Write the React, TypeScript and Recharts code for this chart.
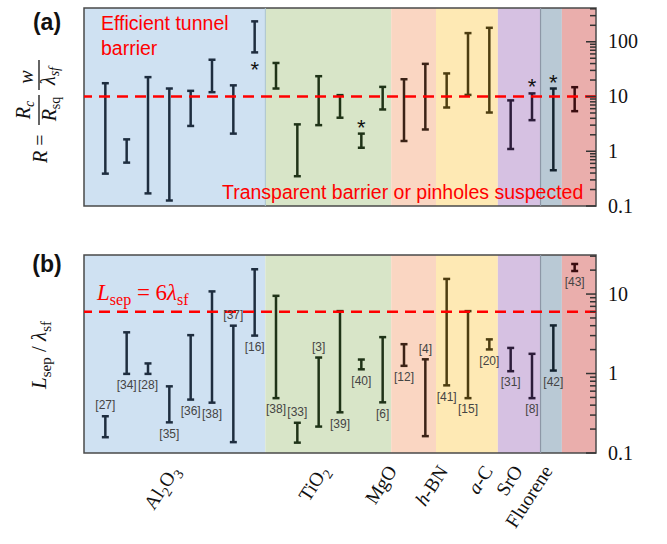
import React from "react";
import {
  ComposedChart,
  XAxis,
  YAxis,
  Scatter,
  ErrorBar,
  ReferenceArea,
  ReferenceLine,
} from "recharts";

// materials (background bands), bar counts per material, band edges in bar-index units
const groups = ["Al2O3", "TiO2", "MgO", "h-BN", "a-C", "SrO", "Fluorene"];
const groupCounts = [8, 6, 2, 3, 2, 1, 1];
const groupEdges = [-1, 7.5, 13.4, 15.5, 18.4, 20.4, 21.4, 23];
const groupFill = ["#cfe1f2", "#d8e5c8", "#fad6c2", "#fee9b4", "#d6c1e2", "#b9c9d5", "#eaaeac"];
const groupStroke = ["#1e2d3f", "#1f3317", "#3b2316", "#4d3d10", "#2c1c3a", "#14232f", "#3a0d10"];
const groupLabelAt = [3.5, 10.5, 13.7, 16.1, 18.2, 19.6, 21.0];

// panel (a): R range per study
const rLow = [0.39, 0.62, 0.17, 0.126, 2.9, 12, 2.1, 64, 14, 0.35, 3.0, 4.1, 1.16, 5.8, 1.54, 2.5, 6.3, 10.7, 5.1, 1.1, 3.7, 0.45, 5.4];
const rHigh = [17.5, 1.65, 22.6, 14, 12.7, 47, 16, 236, 41, 3.1, 23.5, 10.6, 2.1, 15, 20.7, 39.5, 26.4, 144, 180, 8.5, 11.4, 14, 14.8];
const starAt = [7, 12, 20, 21];
const starSide = ["below", "above", "above", "above"];

// panel (b): Lsep / lambda_sf range per study
const lLow = [0.158, 0.99, 0.99, 0.243, 0.47, 0.43, 0.137, 3.0, 0.49, 0.135, 0.215, 0.325, 1.13, 0.434, 1.25, 0.163, 0.71, 0.49, 2.01, 1.07, 0.49, 1.09, 19.5];
const lHigh = [0.29, 3.3, 1.34, 0.69, 3.04, 10.8, 4.0, 20.5, 9.5, 0.24, 1.59, 6.1, 1.5, 2.87, 2.34, 1.51, 15.5, 6.1, 2.69, 2.1, 1.77, 4.03, 23.9];
const refs = ["[27]", "[34]", "[28]", "[35]", "[36]", "[38]", "[37]", "[16]", "[38]", "[33]", "[3]", "[39]", "[40]", "[6]", "[12]", "[4]", "[41]", "[15]", "[20]", "[31]", "[8]", "[42]", "[43]"];
const refSide = ["above", "below", "below", "below", "below", "below", "above", "below", "below", "above", "above", "below", "below", "below", "below", "above", "below", "below", "below", "below", "below", "below", "below"];

const rTicks = [0.1, 0.2, 0.3, 0.4, 0.5, 0.6, 0.7, 0.8, 0.9, 1, 2, 3, 4, 5, 6, 7, 8, 9, 10, 20, 30, 40, 50, 60, 70, 80, 90, 100, 200, 300, 400];
const lTicks = [0.1, 0.2, 0.3, 0.4, 0.5, 0.6, 0.7, 0.8, 0.9, 1, 2, 3, 4, 5, 6, 7, 8, 9, 10, 20, 30];
const majorTicks = [0.1, 1, 10, 100];

const SERIF = "'Liberation Serif', serif";
const SANS = "'Liberation Sans', Arial, sans-serif";

const groupOf: number[] = [];
groupCounts.forEach((n, g) => {
  for (let k = 0; k < n; k++) groupOf.push(g);
});

const rangeData = (lo: number[], hi: number[], g: number) =>
  lo
    .map((v, i) => ({ x: i, y: v, err: [0, hi[i] - v], g: groupOf[i] }))
    .filter((d) => d.g === g);

const starData = starAt.map((i, k) => ({
  x: i,
  y: starSide[k] === "above" ? rHigh[i] : rLow[i],
  side: starSide[k],
}));

const refData = refs.map((r, i) => ({
  x: i,
  y: refSide[i] === "above" ? lHigh[i] : lLow[i],
  side: refSide[i],
  text: r,
}));

// right-hand log axis tick: inward mark, label on the decades
const AxisTick = (props: any) => {
  const { x, y, payload } = props;
  const v = payload.value;
  const major = majorTicks.includes(v);
  return (
    <g>
      <path d={`M${x - (major ? 10 : 6)},${y}H${x}`} stroke="#333" strokeWidth={1.5} fill="none" />
      {major && (
        <text x={x + 12} y={y} dy="0.33em" fontFamily={SERIF} fontSize={20} fill="#111" stroke="none">
          {v < 1 ? "0.1" : String(v)}
        </text>
      )}
    </g>
  );
};

const groupName = (name: string) => {
  if (name === "Al2O3")
    return (
      <>
        Al<tspan dy={5} fontSize={14}>2</tspan>
        <tspan dy={-5}>O</tspan>
        <tspan dy={5} fontSize={14}>3</tspan>
      </>
    );
  if (name === "TiO2")
    return (
      <>
        TiO<tspan dy={5} fontSize={14}>2</tspan>
      </>
    );
  if (name === "h-BN")
    return (
      <>
        <tspan fontStyle="italic">h</tspan>-BN
      </>
    );
  if (name === "a-C")
    return (
      <>
        <tspan fontStyle="italic">a</tspan>-C
      </>
    );
  return name;
};

const GroupTick = (props: any) => {
  const { x, y, payload, index } = props;
  const gi = typeof index === "number" ? index : groupLabelAt.indexOf(payload.value);
  return (
    <text
      transform={`translate(${x},${y + 18}) rotate(-57)`}
      textAnchor="end"
      fontFamily={SERIF}
      fontSize={19.5}
      fill="#111"
    >
      {groupName(groups[gi])}
    </text>
  );
};

const bands = () =>
  groups.map((g, k) => (
    <ReferenceArea
      key={g}
      x1={groupEdges[k]}
      x2={groupEdges[k + 1]}
      fill={groupFill[k]}
      fillOpacity={1}
      stroke="none"
      ifOverflow="visible"
    />
  ));

const ranges = (lo: number[], hi: number[]) =>
  groups.map((g, k) => (
    <Scatter key={"s" + g} data={rangeData(lo, hi, k)} shape={() => <g />} isAnimationActive={false}>
      <ErrorBar
        dataKey="err"
        direction="y"
        width={3.5}
        stroke={groupStroke[k]}
        strokeWidth={2.5}
        isAnimationActive={false}
      />
    </Scatter>
  ));

const Star = (props: any) => {
  const { cx, cy, payload } = props;
  const yy = payload.side === "above" ? cy + 1 : cy + 25;
  return (
    <text x={cx} y={yy} textAnchor="middle" fontFamily={SANS} fontSize={22} fill="#111">
      *
    </text>
  );
};

const RefLabel = (props: any) => {
  const { cx, cy, payload } = props;
  const yy = payload.side === "above" ? cy - 11 : cy + 11;
  return (
    <text x={cx} y={yy} dy="0.35em" textAnchor="middle" fontFamily={SANS} fontSize={12} fill="#444">
      {payload.text}
    </text>
  );
};

// transparent twin chart on top of each panel: carries the right log axis (marks + labels)
const AxisLayer = ({ height, margin, domain, ticks }: any) => (
  <ComposedChart width={667} height={height} margin={margin}>
    <XAxis dataKey="x" type="number" domain={[-1, 23]} hide allowDataOverflow />
    <YAxis
      dataKey="y"
      orientation="right"
      scale="log"
      type="number"
      domain={domain}
      allowDataOverflow
      ticks={ticks}
      interval={0}
      width={60}
      axisLine={false}
      tickLine={false}
      tickSize={0}
      tickMargin={0}
      tick={<AxisTick />}
    />
    <Scatter data={[{ x: 0, y: 1 }]} shape={() => <g />} isAnimationActive={false} />
  </ComposedChart>
);

export default function App() {
  const marginA = { top: 8, right: 11, bottom: 24, left: 84 };
  const marginB = { top: 10, right: 11, bottom: 6, left: 84 };
  return (
    <div style={{ position: "absolute", left: 0, top: 0, width: 667, height: 544, background: "#fff" }}>
      <div style={{ position: "absolute", left: 0, top: 0 }}>
        <ComposedChart width={667} height={230} margin={marginA}>
          <XAxis dataKey="x" type="number" domain={[-1, 23]} hide allowDataOverflow />
          <YAxis
            dataKey="y"
            orientation="right"
            scale="log"
            type="number"
            domain={[0.1, 414]}
            allowDataOverflow
            ticks={majorTicks}
            width={60}
            axisLine={false}
            tickLine={false}
            tick={false}
          />
          {bands()}
          <ReferenceLine x={7.5} stroke="#a9c2cf" strokeWidth={1} />
          <ReferenceLine x={20.4} stroke="#8d97a6" strokeWidth={1.2} />
          {ranges(rLow, rHigh)}
          <Scatter data={starData} shape={<Star />} isAnimationActive={false} />
          <ReferenceLine y={10} stroke="#ff0000" strokeWidth={2.5} strokeDasharray="11 7" />
          <ReferenceArea x1={-1} x2={23} fill="none" stroke="#4a4a4a" strokeWidth={1.5} ifOverflow="visible" />
        </ComposedChart>
      </div>
      <div style={{ position: "absolute", left: 0, top: 0, pointerEvents: "none" }}>
        <AxisLayer height={230} margin={marginA} domain={[0.1, 414]} ticks={rTicks} />
      </div>
      <div style={{ position: "absolute", left: 0, top: 245 }}>
        <ComposedChart width={667} height={299} margin={marginB}>
          <XAxis
            dataKey="x"
            type="number"
            domain={[-1, 23]}
            allowDataOverflow
            ticks={groupLabelAt}
            interval={0}
            height={85}
            axisLine={false}
            tickLine={false}
            tickSize={0}
            tickMargin={0}
            tick={<GroupTick />}
          />
          <YAxis
            dataKey="y"
            orientation="right"
            scale="log"
            type="number"
            domain={[0.1, 31]}
            allowDataOverflow
            ticks={[0.1, 1, 10]}
            width={60}
            axisLine={false}
            tickLine={false}
            tick={false}
          />
          {bands()}
          <ReferenceLine x={20.4} stroke="#8d97a6" strokeWidth={1.2} />
          {ranges(lLow, lHigh)}
          <Scatter data={refData} shape={<RefLabel />} isAnimationActive={false} />
          <ReferenceLine y={6} stroke="#ff0000" strokeWidth={2.5} strokeDasharray="11 7" />
          <ReferenceArea x1={-1} x2={23} fill="none" stroke="#4a4a4a" strokeWidth={1.5} ifOverflow="visible" />
        </ComposedChart>
      </div>
      <div style={{ position: "absolute", left: 0, top: 245, pointerEvents: "none" }}>
        <AxisLayer
          height={299}
          margin={{ top: 10, right: 11, bottom: 91, left: 84 }}
          domain={[0.1, 31]}
          ticks={lTicks}
        />
      </div>
      <svg
        width={667}
        height={544}
        style={{ position: "absolute", left: 0, top: 0, pointerEvents: "none", overflow: "visible" }}
      >
        <text x={47} y={22} dy="0.35em" textAnchor="middle" fontFamily={SANS} fontWeight="bold" fontSize={23} fill="#111">
          (a)
        </text>
        <text x={47} y={264} dy="0.35em" textAnchor="middle" fontFamily={SANS} fontWeight="bold" fontSize={23} fill="#111">
          (b)
        </text>

        {/* panel (a) y title */}
        <g transform="translate(39,110) rotate(-90)" fontFamily={SERIF} fontSize={20} fill="#111">
          <text x={-53} y={8}>
            <tspan fontStyle="italic">R</tspan> =
          </text>
          <line x1={-15} x2={15} y1={0} y2={0} stroke="#111" strokeWidth={1.3} />
          <text x={0} y={-9} textAnchor="middle">
            <tspan fontStyle="italic">R</tspan>
            <tspan fontStyle="italic" fontSize={14} dy={4}>c</tspan>
          </text>
          <text x={1} y={17} textAnchor="middle">
            <tspan fontStyle="italic">R</tspan>
            <tspan fontSize={14} dy={4}>sq</tspan>
          </text>
          <line x1={20} x2={50} y1={0} y2={0} stroke="#111" strokeWidth={1.3} />
          <text x={33} y={-6} textAnchor="middle" fontStyle="italic">
            w
          </text>
          <text x={34} y={16} textAnchor="middle">
            <tspan fontStyle="italic">λ</tspan>
            <tspan fontStyle="italic" fontSize={14} dy={4}>sf</tspan>
          </text>
        </g>

        {/* panel (b) y title */}
        <g transform="translate(46,355) rotate(-90)" fontFamily={SERIF} fontSize={21} fill="#111">
          <text x={0} y={0} textAnchor="middle">
            <tspan fontStyle="italic">L</tspan>
            <tspan fontSize={15} dy={5}>sep</tspan>
            <tspan dy={-5}> / </tspan>
            <tspan fontStyle="italic">λ</tspan>
            <tspan fontSize={15} dy={5}>sf</tspan>
          </text>
        </g>

        <text x={101} y={23} dy="0.35em" fontFamily={SANS} fontSize={19.5} fill="#ff0000">
          Efficient tunnel
        </text>
        <text x={101} y={48} dy="0.35em" fontFamily={SANS} fontSize={19.5} fill="#ff0000">
          barrier
        </text>
        <text x={222} y={192} dy="0.35em" fontFamily={SANS} fontSize={19.5} fill="#ff0000">
          Transparent barrier or pinholes suspected
        </text>

        <text x={97} y={292} dy="0.35em" fontFamily={SERIF} fontSize={23} fill="#ff0000">
          <tspan fontStyle="italic">L</tspan>
          <tspan fontSize={16} dy={5}>sep</tspan>
          <tspan dy={-5}> = 6</tspan>
          <tspan fontStyle="italic">λ</tspan>
          <tspan fontSize={16} dy={5}>sf</tspan>
        </text>
      </svg>
    </div>
  );
}
